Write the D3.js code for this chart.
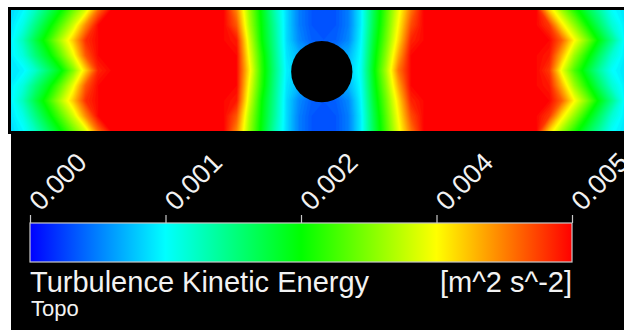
<!DOCTYPE html>
<html>
<head>
<meta charset="utf-8">
<script src="https://cdn.jsdelivr.net/npm/d3@7"></script>
<style>
  html, body { margin: 0; padding: 0; background: #ffffff; }
  svg { display: block; }
  text { font-family: "Liberation Sans", Arial, Helvetica, sans-serif; fill: #f2f2f2; }
</style>
</head>
<body>
<svg id="chart" width="624" height="331"></svg>
<script>
// ---------------- DATA ----------------
// Turbulence kinetic energy field, in units of 1e-3 m^2 s^-2.
// 9 rows (top wall -> bottom wall) x 50 columns (inlet -> outlet).
const tkeRow0 = [1.10,1.25,1.60,2.05,2.50,3.05,3.60,4.50,5.00, 5,5,5,5,5,5,5,5,5, 4.38,3.30,2.45,1.70,1.10,0.65,0.45,0.40,0.45,0.65,1.20,2.10,2.88,3.68,4.45, 5,5,5,5,5,5,5,5,5, 5.00,4.00,3.30,2.70,2.20,1.75,1.30,1.15];
const tkeRow1 = [1.15,1.40,1.90,2.40,2.95,3.55,4.35,5.00,5.00, 5,5,5,5,5,5,5,5,5, 4.60,3.40,2.50,1.80,1.10,0.65,0.45,0.40,0.45,0.65,1.20,2.15,2.95,3.80,4.65, 5,5,5,5,5,5,5,5,5, 5.00,4.75,3.90,3.25,2.60,2.05,1.50,1.20];
const tkeRow2 = [1.20,1.62,2.20,2.75,3.40,4.05,4.80,5.00,5.00, 5,5,5,5,5,5,5,5,5, 4.90,3.60,2.55,1.85,1.10,0.70,0.50,0.45,0.50,0.70,1.25,2.25,3.05,3.95,4.85, 5,5,5,5,5,5,5,5,5, 5.00,5.00,4.55,3.80,3.15,2.45,1.85,1.25];
const tkeRow3 = [1.20,1.45,1.95,2.40,3.00,3.70,4.60,5.00,5.00, 5,5,5,5,5,5,5,5,5, 5.00,3.75,2.70,1.90,1.15,0.90,0.75,0.75,0.75,0.90,1.30,2.35,3.20,4.20,5.00, 5,5,5,5,5,5,5,5,5, 5.00,4.90,4.15,3.30,2.65,2.05,1.50,1.20];
const tkeRow4 = [1.15,1.22,1.55,2.00,2.45,3.15,4.00,4.85,5.00, 5,5,5,5,5,5,5,5,5, 5.00,3.90,2.75,1.95,1.20,1.00,0.75,0.75,0.75,1.00,1.35,2.43,3.35,4.45,5.00, 5,5,5,5,5,5,5,5,5, 5.00,4.75,3.70,2.90,2.30,1.75,1.30,1.15];
const tkeRow5 = [1.20,1.45,1.95,2.40,3.00,3.70,4.60,5.00,5.00, 5,5,5,5,5,5,5,5,5, 5.00,3.75,2.70,1.90,1.15,0.90,0.75,0.75,0.75,0.90,1.30,2.35,3.20,4.20,5.00, 5,5,5,5,5,5,5,5,5, 5.00,4.90,4.15,3.30,2.65,2.05,1.50,1.20];
const tkeRow6 = [1.20,1.62,2.20,2.75,3.40,4.05,4.80,5.00,5.00, 5,5,5,5,5,5,5,5,5, 4.90,3.60,2.55,1.85,1.10,0.70,0.50,0.45,0.50,0.70,1.25,2.25,3.05,3.95,4.85, 5,5,5,5,5,5,5,5,5, 5.00,5.00,4.55,3.80,3.15,2.45,1.85,1.25];
const tkeRow7 = [1.15,1.40,1.90,2.40,2.95,3.55,4.35,5.00,5.00, 5,5,5,5,5,5,5,5,5, 4.60,3.40,2.50,1.80,1.10,0.65,0.45,0.40,0.45,0.65,1.20,2.15,2.95,3.80,4.65, 5,5,5,5,5,5,5,5,5, 5.00,4.75,3.90,3.25,2.60,2.05,1.50,1.20];
const tkeRow8 = [1.10,1.25,1.60,2.05,2.50,3.05,3.60,4.50,5.00, 5,5,5,5,5,5,5,5,5, 4.38,3.30,2.45,1.70,1.10,0.65,0.45,0.40,0.45,0.65,1.20,2.10,2.88,3.68,4.45, 5,5,5,5,5,5,5,5,5, 5.00,4.00,3.30,2.70,2.20,1.75,1.30,1.15];
const tkeRows = [tkeRow0, tkeRow1, tkeRow2, tkeRow3, tkeRow4, tkeRow5, tkeRow6, tkeRow7, tkeRow8];

// Channel extent (cylinder diameters) and cylinder
const channelX = [-5, 5];
const channelY = [-1, 1];
const cylinder = { x: 0.07, y: -0.02, r: 0.5 };

// Legend
const legendDomain = [0, 0.005];
const colorStops = [0, 0.00125, 0.0025, 0.00375, 0.005];
const colorNames = ["#0000ff", "#00ffff", "#00ff00", "#ffff00", "#ff0000"];
const tickValues = [0, 0.00125, 0.0025, 0.00375, 0.005];
const tickLabels = ["0.000", "0.001", "0.002", "0.004", "0.005"];
const legendTitle = "Turbulence Kinetic Energy";
const legendUnits = "[m^2 s^-2]";
const legendSub = "Topo";

// ---------------- DRAW ----------------
const svg = d3.select("#chart");
const W = 624, H = 331;
const field = { left: 11, top: 10, right: 624, bottom: 131 };

// frame / panels
svg.append("rect").attr("x", 8).attr("y", 7).attr("width", W - 8).attr("height", 127).attr("fill", "#000");
svg.append("rect").attr("x", 11).attr("y", 131).attr("width", W - 11).attr("height", 199).attr("fill", "#000");

const color = d3.scaleLinear().domain(colorStops).range(colorNames).clamp(true);

const xScale = d3.scaleLinear().domain(channelX).range([field.left, field.right]);
const yScale = d3.scaleLinear().domain([channelY[1], channelY[0]]).range([field.top, field.bottom]);

const nx = tkeRows[0].length, ny = tkeRows.length;
const gridX = d3.scaleLinear().domain([0.5, nx - 0.5]).range(channelX);
const gridY = d3.scaleLinear().domain([0.5, ny - 0.5]).range([channelY[1], channelY[0]]);

const values = [];
tkeRows.forEach(r => r.forEach(v => values.push(v * 1e-3)));

const thresholds = d3.range(0, 0.005 + 1e-9, 0.00005);
const contours = d3.contours().size([nx, ny]).thresholds(thresholds)(values);

const proj = d3.geoTransform({
  point: function (x, y) { this.stream.point(xScale(gridX(x)), yScale(gridY(y))); }
});
const path = d3.geoPath(proj);

svg.append("clipPath").attr("id", "fieldClip")
  .append("rect").attr("x", field.left).attr("y", field.top)
  .attr("width", field.right - field.left).attr("height", field.bottom - field.top);

const fg = svg.append("g").attr("clip-path", "url(#fieldClip)");
fg.append("rect").attr("x", field.left).attr("y", field.top)
  .attr("width", field.right - field.left).attr("height", field.bottom - field.top)
  .attr("fill", color(0));
fg.selectAll("path.c").data(contours).join("path")
  .attr("class", "c")
  .attr("d", path)
  .attr("fill", d => color(d.value))
  .attr("stroke", d => color(d.value))
  .attr("stroke-width", 0.6);

// cylinder
fg.append("circle")
  .attr("cx", xScale(cylinder.x)).attr("cy", yScale(cylinder.y))
  .attr("r", xScale(cylinder.r) - xScale(0))
  .attr("fill", "#000");

// ---------------- LEGEND ----------------
const lx = d3.scaleLinear().domain(legendDomain).range([30, 572]);
const barTop = 223, barH = 39;

const defs = svg.append("defs");
const grad = defs.append("linearGradient").attr("id", "cbar")
  .attr("x1", "0%").attr("x2", "100%").attr("y1", "0%").attr("y2", "0%");
grad.selectAll("stop").data(colorStops).join("stop")
  .attr("offset", d => ((lx(d) - lx(legendDomain[0])) / (lx(legendDomain[1]) - lx(legendDomain[0])) * 100) + "%")
  .attr("stop-color", d => color(d));

svg.append("rect")
  .attr("x", lx(legendDomain[0])).attr("y", barTop)
  .attr("width", lx(legendDomain[1]) - lx(legendDomain[0])).attr("height", barH)
  .attr("fill", "url(#cbar)")
  .attr("stroke", "#c8c8c8").attr("stroke-width", 1.2);

const axis = d3.axisTop(lx).tickValues(tickValues)
  .tickFormat((d, i) => tickLabels[i]).tickSize(8).tickSizeOuter(0);
const ag = svg.append("g").attr("transform", `translate(0,${barTop})`).call(axis);
ag.select(".domain").remove();
ag.selectAll(".tick line").attr("stroke", "#c8c8c8").attr("stroke-width", 1.2);
ag.selectAll(".tick text")
  .attr("text-anchor", "start")
  .attr("font-size", 27)
  .attr("font-family", "'Liberation Sans', Arial, sans-serif")
  .attr("fill", "#f2f2f2")
  .attr("x", null).attr("y", null).attr("dy", null)
  .attr("transform", "translate(10,-11) rotate(-45)");

svg.append("text").attr("x", 30).attr("y", 292).attr("font-size", 29).text(legendTitle);
svg.append("text").attr("x", 572).attr("y", 292).attr("font-size", 29).attr("text-anchor", "end").text(legendUnits);
svg.append("text").attr("x", 31).attr("y", 316).attr("font-size", 22).text(legendSub);
</script>
</body>
</html>
